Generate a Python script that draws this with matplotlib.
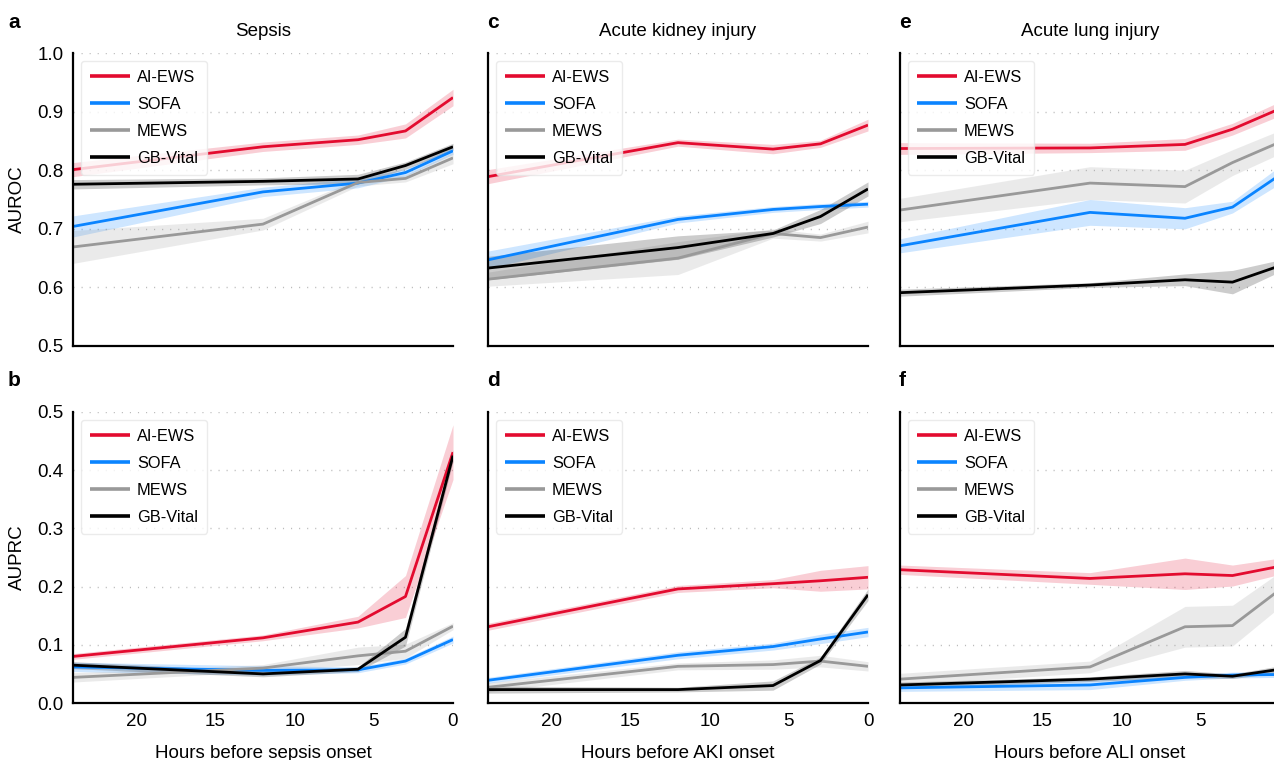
import matplotlib
matplotlib.use("Agg")
import matplotlib.pyplot as plt
import numpy as np

plt.rcParams['font.family'] = ['Liberation Sans', 'DejaVu Sans']

hours = [24, 12, 6, 3, 0]
models = ["AI-EWS", "SOFA", "MEWS", "GB-Vital"]
colors = ["#E30B2F", "#0A84FF", "#999999", "#000000"]

# AUROC
sepsis_auroc = [[0.801, 0.840, 0.852, 0.867, 0.924],
                [0.704, 0.763, 0.778, 0.796, 0.833],
                [0.669, 0.708, 0.779, 0.786, 0.821],
                [0.776, 0.781, 0.785, 0.808, 0.840]]
sepsis_auroc_ci = [[0.012, 0.008, 0.008, 0.012, 0.014],
                   [0.018, 0.008, 0.008, 0.006, 0.006],
                   [0.028, 0.010, 0.006, 0.006, 0.010],
                   [0.008, 0.006, 0.008, 0.006, 0.006]]
aki_auroc = [[0.789, 0.847, 0.836, 0.845, 0.877],
             [0.647, 0.716, 0.733, 0.738, 0.742],
             [0.614, 0.650, 0.692, 0.685, 0.703],
             [0.633, 0.668, 0.692, 0.721, 0.768]]
aki_auroc_ci = [[0.012, 0.006, 0.008, 0.006, 0.010],
                [0.015, 0.006, 0.005, 0.005, 0.005],
                [0.012, 0.028, 0.008, 0.006, 0.010],
                [0.020, 0.020, 0.006, 0.012, 0.012]]
ali_auroc = [[0.837, 0.838, 0.844, 0.870, 0.905],
             [0.671, 0.728, 0.718, 0.737, 0.792],
             [0.732, 0.778, 0.772, 0.813, 0.848],
             [0.591, 0.604, 0.613, 0.609, 0.637]]
ali_auroc_ci = [[0.010, 0.008, 0.010, 0.010, 0.012],
                [0.012, 0.022, 0.018, 0.010, 0.015],
                [0.020, 0.028, 0.028, 0.022, 0.020],
                [0.006, 0.004, 0.010, 0.020, 0.010]]

# AUPRC
sepsis_auprc = [[0.080, 0.112, 0.139, 0.183, 0.431],
                [0.062, 0.056, 0.057, 0.072, 0.109],
                [0.044, 0.060, 0.081, 0.089, 0.132],
                [0.065, 0.050, 0.058, 0.113, 0.425]]
sepsis_auprc_ci = [[0.005, 0.005, 0.010, 0.036, 0.047],
                   [0.008, 0.008, 0.005, 0.005, 0.006],
                   [0.008, 0.006, 0.015, 0.012, 0.006],
                   [0.006, 0.005, 0.004, 0.015, 0.010]]
aki_auprc = [[0.131, 0.196, 0.205, 0.210, 0.216],
             [0.039, 0.082, 0.097, 0.110, 0.122],
             [0.027, 0.063, 0.066, 0.072, 0.063],
             [0.023, 0.023, 0.030, 0.073, 0.186]]
aki_auprc_ci = [[0.006, 0.006, 0.007, 0.018, 0.020],
                [0.005, 0.006, 0.006, 0.008, 0.008],
                [0.008, 0.006, 0.008, 0.010, 0.008],
                [0.006, 0.004, 0.008, 0.006, 0.010]]
ali_auprc = [[0.229, 0.214, 0.222, 0.219, 0.235],
             [0.026, 0.031, 0.044, 0.048, 0.049],
             [0.041, 0.062, 0.131, 0.133, 0.195],
             [0.031, 0.041, 0.050, 0.046, 0.058]]
ali_auprc_ci = [[0.008, 0.010, 0.027, 0.018, 0.014],
                [0.006, 0.008, 0.005, 0.005, 0.005],
                [0.010, 0.010, 0.035, 0.035, 0.030],
                [0.005, 0.004, 0.006, 0.004, 0.006]]

titles = ["Sepsis", "Acute kidney injury", "Acute lung injury"]
xlabels = ["Hours before sepsis onset", "Hours before AKI onset", "Hours before ALI onset"]
letters = [["a", "c", "e"], ["b", "d", "f"]]
yticks_top = [0.5, 0.6, 0.7, 0.8, 0.9, 1.0]
yticks_bot = [0.0, 0.1, 0.2, 0.3, 0.4, 0.5]
xticks = [20, 15, 10, 5, 0]

data = [[(sepsis_auroc, sepsis_auroc_ci), (aki_auroc, aki_auroc_ci), (ali_auroc, ali_auroc_ci)],
        [(sepsis_auprc, sepsis_auprc_ci), (aki_auprc, aki_auprc_ci), (ali_auprc, ali_auprc_ci)]]

W, H = 1274, 760
fig = plt.figure(figsize=(W / 100, H / 100), dpi=100)

col_left = [73, 488, 900]
ax_w = 380
rows = [(53, 346), (412, 703)]

for r in range(2):
    for c in range(3):
        top, bot = rows[r]
        ax = fig.add_axes([col_left[c] / W, 1 - bot / H, ax_w / W, (bot - top) / H])
        vals, cis = data[r][c]
        x = np.array(hours)
        for m in range(4):
            v = np.array(vals[m])
            e = np.array(cis[m])
            ax.fill_between(x, v - e, v + e, color=colors[m], alpha=0.2, linewidth=0)
        for m in range(4):
            ax.plot(x, vals[m], color=colors[m], lw=2.0, label=models[m], solid_capstyle='butt')
        ax.set_xlim(24, 0)
        yt = yticks_top if r == 0 else yticks_bot
        ax.set_ylim(yt[0], yt[-1])
        ax.set_yticks(yt)
        ax.set_xticks(xticks)
        for yv in yt[1:]:
            ax.axhline(yv, color="#bbbbbb", lw=1.0, linestyle=(0, (0.8, 5)), zorder=0)
        for s in ["top", "right"]:
            ax.spines[s].set_visible(False)
        for s in ["left", "bottom"]:
            ax.spines[s].set_linewidth(1.6)
        ax.tick_params(length=0, labelsize=13.5, pad=7)
        if c == 0:
            ax.set_yticklabels([f"{t:.1f}" for t in yt])
            ax.set_ylabel("AUROC" if r == 0 else "AUPRC", fontsize=13.5, labelpad=8)
        else:
            ax.set_yticklabels([])
        if r == 0:
            ax.set_xticklabels([])
            ax.set_title(titles[c], fontsize=13.5, pad=12)
        else:
            ax.set_xticklabels([str(t) for t in xticks])
            ax.set_xlabel(xlabels[c], fontsize=13.5, labelpad=11)
        leg = ax.legend(loc="upper left", fontsize=11.8, frameon=True, framealpha=0.8,
                        edgecolor="#e6e6e6", handlelength=2.4, handletextpad=0.45,
                        labelspacing=0.72, borderpad=0.55, borderaxespad=0.5)
        for ln in leg.get_lines():
            ln.set_linewidth(2.6)
        fig.text((col_left[c] - 65 if c == 0 else col_left[c] - 1) / W,
                 1 - (top - 31) / H, letters[r][c], fontsize=15, fontweight="bold",
                 ha="left", va="center")

fig.savefig("out.png", dpi=100)
